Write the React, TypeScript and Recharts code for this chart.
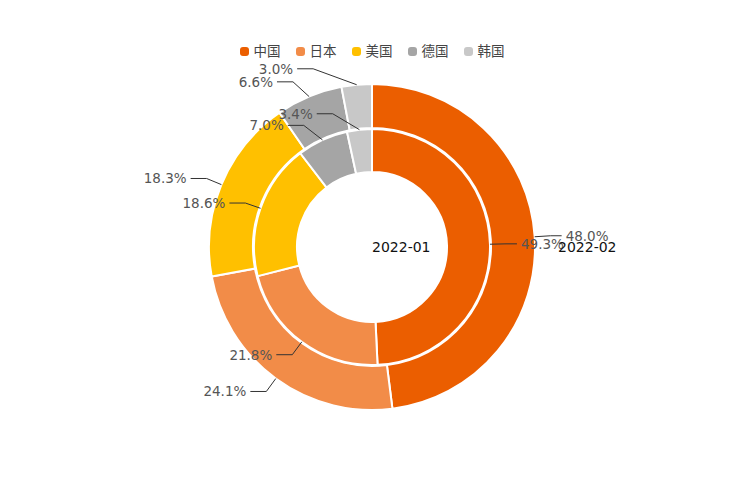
import { PieChart, Pie, Cell } from 'recharts'

const categories = ['中国', '日本', '美国', '德国', '韩国']
const periods = ['2022-01', '2022-02']
const share2022_01 = [49.3, 21.8, 18.6, 7.0, 3.4]
const share2022_02 = [48.0, 24.1, 18.3, 6.6, 3.0]

const COLORS = ['#eb5e00', '#f28c48', '#ffc000', '#a5a5a5', '#c8c8c8']
const FONT = '"DejaVu Sans", "Noto Sans CJK SC", sans-serif'

const W = 744
const H = 496
const CX = 372
const CY = 247

const innerData = categories.map((name, i) => ({ name, value: share2022_01[i] }))
const outerData = categories.map((name, i) => ({ name, value: share2022_02[i] }))

/* label line: radial segment + horizontal segment, like the original */
const RAD = Math.PI / 180
const LEN1 = 16
const LEN2 = 16
const LEN2_RIGHT = 11
// nudges for the crowded labels near the top
const SHIFT: Record<string, number> = { 'outer-3': -10, 'outer-4': -42, 'inner-3': -12, 'inner-4': -25 }

function makeLabel(ring: 'inner' | 'outer') {
  return (p: any) => {
    const { cx, cy, midAngle, outerRadius, value, index } = p
    const cos = Math.cos(-midAngle * RAD)
    const sin = Math.sin(-midAngle * RAD)
    const sx = cx + outerRadius * cos
    const sy = cy + outerRadius * sin
    const ex = cx + (outerRadius + LEN1) * cos + (SHIFT[`${ring}-${index}`] ?? 0)
    const ey = cy + (outerRadius + LEN1) * sin
    const right = cos >= 0
    const tx = ex + (right ? LEN2_RIGHT : -LEN2)
    return (
      <g>
        <polyline points={`${sx},${sy} ${ex},${ey} ${tx},${ey}`} fill="none" stroke="#333" strokeWidth={1} />
        <text
          x={tx + (right ? 4 : -4)}
          y={ey}
          textAnchor={right ? 'start' : 'end'}
          dominantBaseline="central"
          fontSize={13.5}
          fill="#555"
          fontFamily={FONT}
        >
          {Number(value).toFixed(1)}%
        </text>
      </g>
    )
  }
}

export default function App() {
  return (
    <div style={{ position: 'absolute', left: 0, top: 0, width: W, height: H, background: '#fff' }}>
      <PieChart width={W} height={H} margin={{ top: 0, right: 0, bottom: 0, left: 0 }}>
        <Pie
          data={outerData}
          dataKey="value"
          nameKey="name"
          cx={CX}
          cy={CY}
          innerRadius={119}
          outerRadius={163}
          startAngle={90}
          endAngle={-270}
          stroke="#fff"
          strokeWidth={2}
          label={makeLabel('outer')}
          labelLine={false}
          isAnimationActive={false}
        >
          {outerData.map((_, i) => (
            <Cell key={i} fill={COLORS[i]} />
          ))}
        </Pie>
        <Pie
          data={innerData}
          dataKey="value"
          nameKey="name"
          cx={CX}
          cy={CY}
          innerRadius={75}
          outerRadius={118}
          startAngle={90}
          endAngle={-270}
          stroke="#fff"
          strokeWidth={2}
          label={makeLabel('inner')}
          labelLine={false}
          isAnimationActive={false}
        >
          {innerData.map((_, i) => (
            <Cell key={i} fill={COLORS[i]} />
          ))}
        </Pie>
      </PieChart>

      {/* series names */}
      <svg width={W} height={H} style={{ position: 'absolute', left: 0, top: 0, pointerEvents: 'none' }}>
        <text x={CX} y={CY} dominantBaseline="central" fontSize={14} fill="#111" fontFamily={FONT}>{periods[0]}</text>
        <text x={558} y={CY} dominantBaseline="central" fontSize={14} fill="#111" fontFamily={FONT}>{periods[1]}</text>
      </svg>

      {/* legend */}
      <div
        style={{
          position: 'absolute', left: 0, top: 44, width: W, display: 'flex', justifyContent: 'center',
          gap: 15, fontFamily: FONT, fontSize: 13.5, lineHeight: '14px', color: '#444',
        }}
      >
        {categories.map((c, i) => (
          <div key={c} style={{ display: 'flex', alignItems: 'center', gap: 5 }}>
            <span style={{ width: 9, height: 9, borderRadius: 3, background: COLORS[i], display: 'inline-block' }} />
            <span>{c}</span>
          </div>
        ))}
      </div>
    </div>
  )
}
